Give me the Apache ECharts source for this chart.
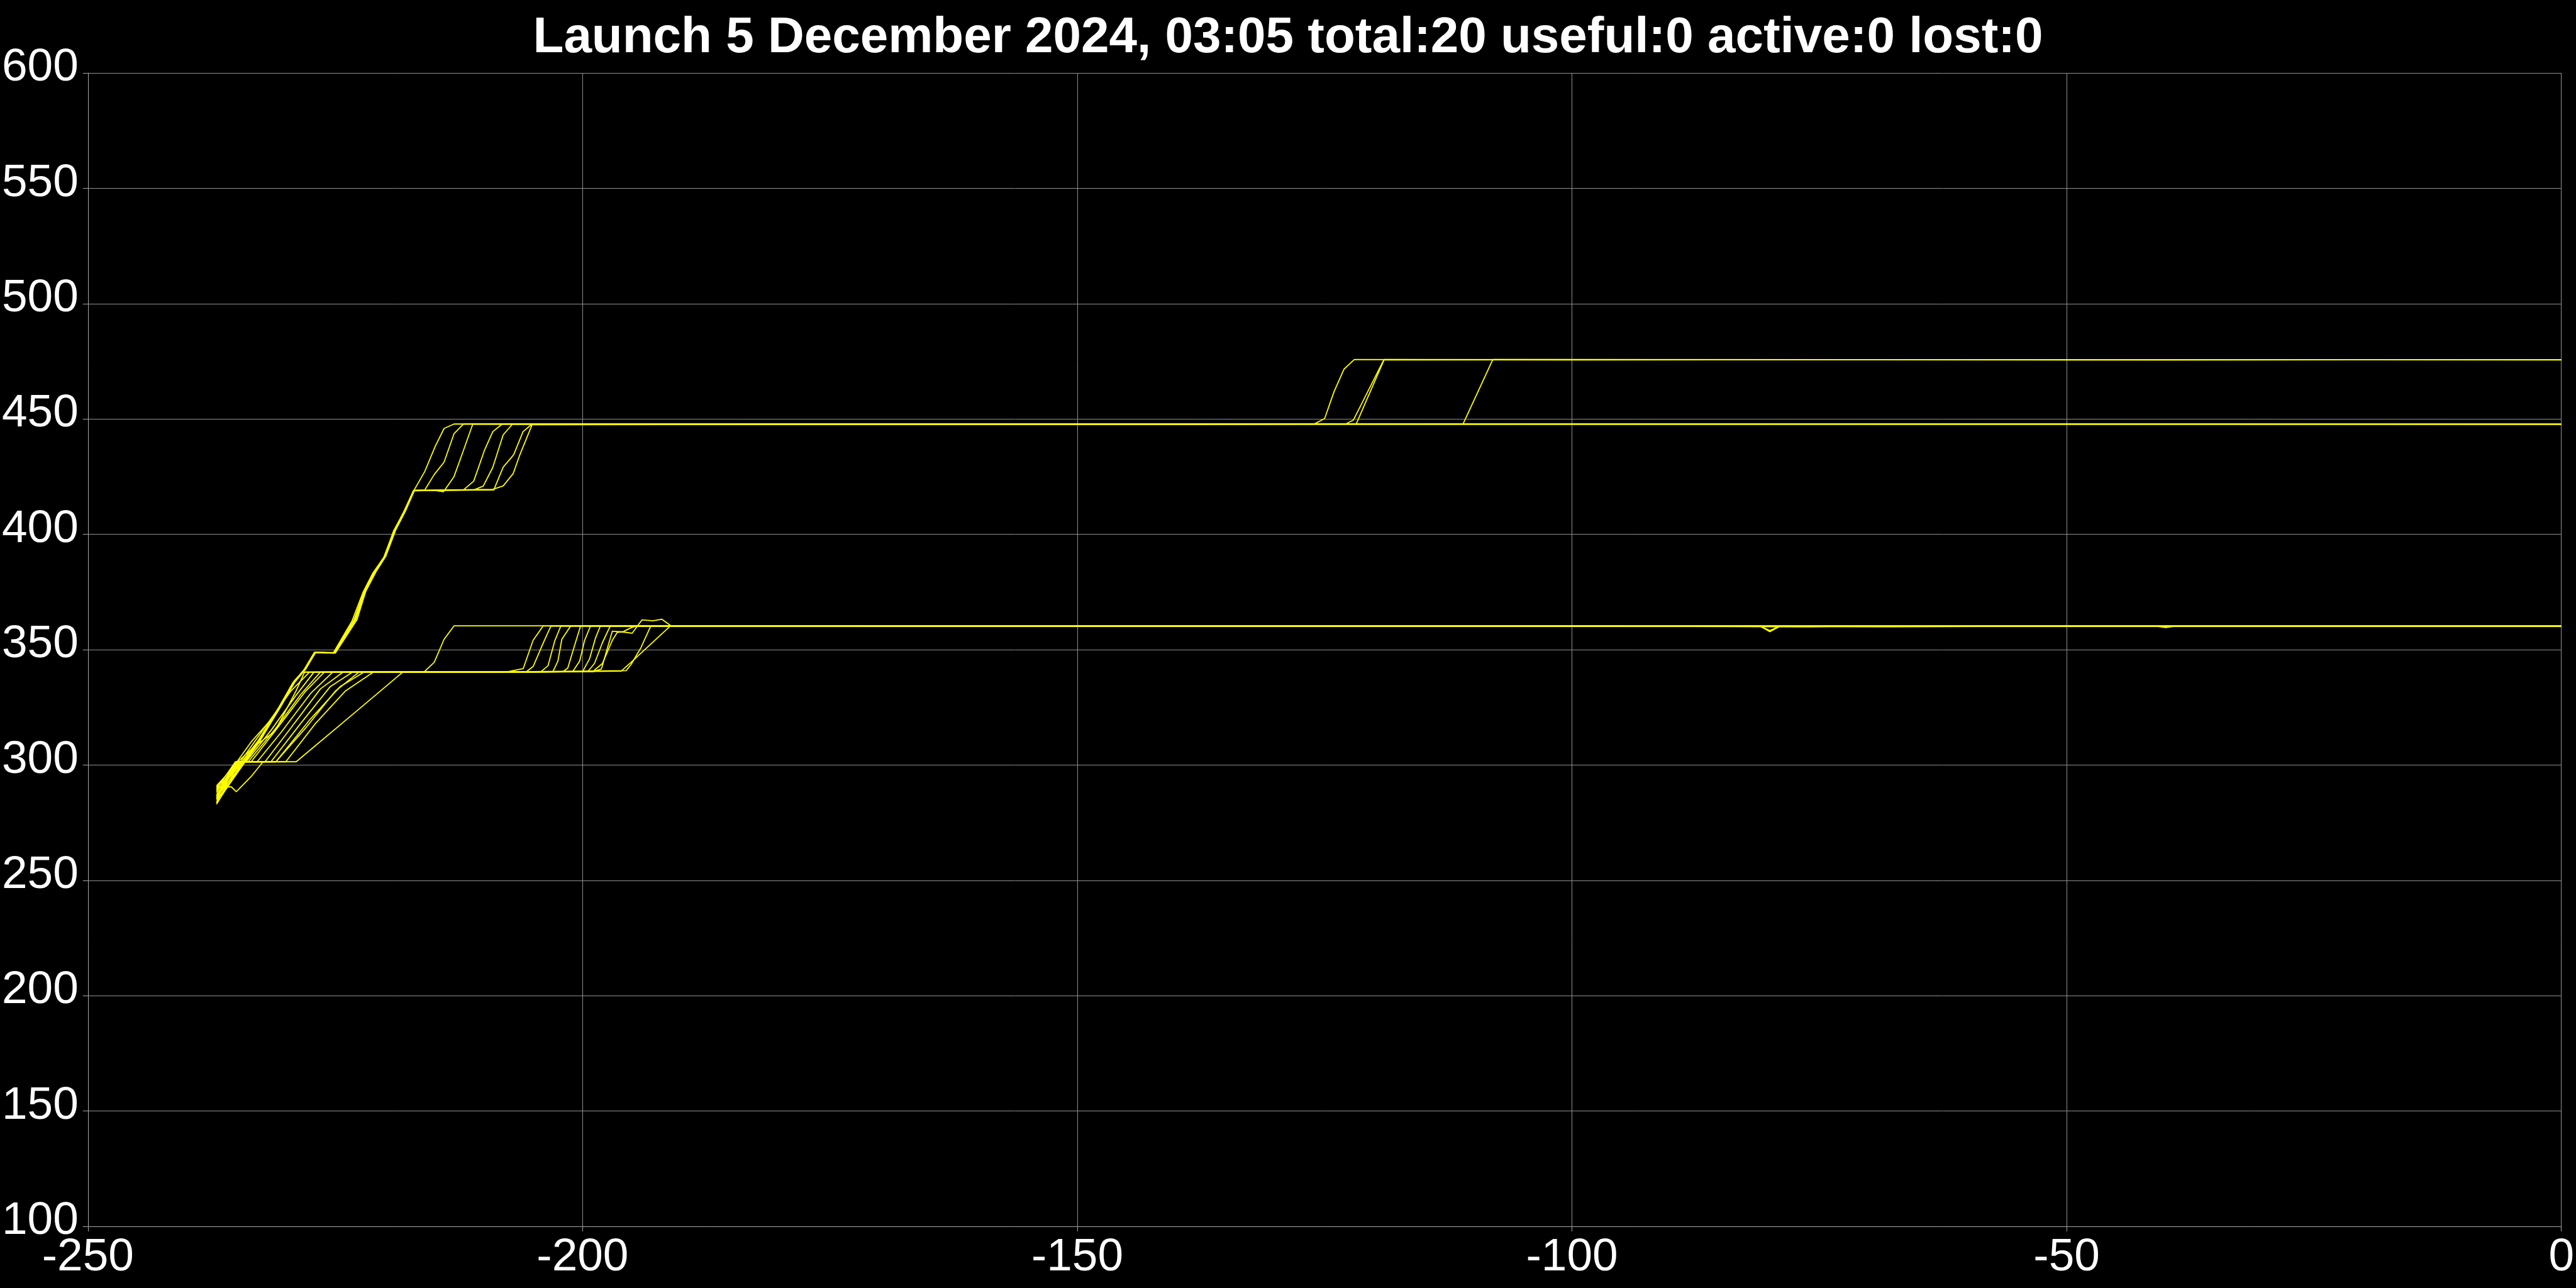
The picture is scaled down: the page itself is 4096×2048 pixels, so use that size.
<!DOCTYPE html>
<html>
<head>
<meta charset="utf-8">
<script src="https://cdn.jsdelivr.net/npm/echarts@6/dist/echarts.min.js"></script>
<style>
html,body{margin:0;padding:0;background:#000;}
#chart{width:4096px;height:2048px;}
</style>
</head>
<body>
<div id="chart"></div>
<script>
// ---- Data: days relative to now (x) vs altitude km (y) ----
const titleText = "Launch 5 December 2024, 03:05 total:20 useful:0 active:0 lost:0";
const xTicks = [-250, -200, -150, -100, -50, 0];
const yTicks = [100, 150, 200, 250, 300, 350, 400, 450, 500, 550, 600];

// Upper group (raised to 420 then 448, some to 475)
const sat01 = [[-237,287.0],[-235.1,296.4],[-232.75,310.0],[-230.6,325.5],[-229.2,335.9],[-228.1,341.4],[-227.05,348.8],[-225.1,348.6],[-223.0,363.2],[-222.0,375.4],[-221.0,383.6],[-220.0,390.4],[-219.0,401.8],[-218.0,410.0],[-217.05,419.0],[-215.96,427.2],[-214.9,438.1],[-214.0,445.9],[-213.0,447.8],[-190,447.8],[-160,447.8],[-126.0,447.9],[-125.0,450.2],[-124.05,461.8],[-123.04,471.6],[-122.0,475.8],[-100,475.6],[-70,475.7],[-40,475.6],[0,475.7]];
const sat02 = [[-237,285.0],[-235.0,296.0],[-232.7,310.2],[-230.5,325.8],[-229.2,336.2],[-228.0,341.8],[-227.0,348.7],[-225.0,348.5],[-222.8,363.0],[-221.9,375.6],[-220.9,383.8],[-219.9,390.6],[-218.9,401.9],[-217.9,410.3],[-217.0,419.1],[-215.96,419.2],[-215.0,425.9],[-214.0,431.3],[-213.0,443.6],[-212.05,447.8],[-180,447.8],[-140,447.8],[-122.8,448.0],[-122.1,449.5],[-119.0,475.8],[-90,475.7],[-50,475.6],[0,475.7]];
const sat03 = [[-237,289.0],[-235.2,297.0],[-232.8,310.5],[-230.7,325.0],[-229.3,335.5],[-228.2,341.0],[-227.1,348.9],[-225.1,348.7],[-223.1,363.0],[-222.1,375.0],[-221.1,383.3],[-220.0,390.2],[-219.1,401.5],[-218.0,409.8],[-217.1,418.9],[-215.0,419.1],[-214.05,418.5],[-213.0,425.0],[-212.05,436.3],[-211.1,447.8],[-180,447.8],[-140,447.7],[-121.8,447.9],[-119.0,475.6],[-80,475.7],[-40,475.7],[0,475.6]];
const sat04 = [[-237,284.0],[-235.0,296.2],[-232.7,309.8],[-230.6,325.4],[-229.1,336.0],[-228.1,341.3],[-227.05,348.7],[-225.1,348.6],[-223.0,363.1],[-222.0,375.3],[-221.0,383.5],[-220.0,390.3],[-219.0,401.7],[-218.0,410.1],[-217.05,419.0],[-212.05,419.2],[-211.0,423.1],[-209.93,436.3],[-209.08,444.5],[-208.13,447.8],[-170,447.8],[-130,447.8],[-111.0,447.9],[-108.0,475.8],[-70,475.7],[-30,475.7],[0,475.7]];
const sat05 = [[-237,290.5],[-235.2,297.2],[-232.8,310.3],[-230.6,325.6],[-229.2,336.1],[-228.1,341.5],[-227.0,348.8],[-225.2,348.6],[-223.3,362.5],[-222.2,374.8],[-221.2,383.2],[-220.1,390.0],[-219.1,401.4],[-218.1,409.6],[-217.1,418.9],[-211.0,419.2],[-210.04,420.9],[-209.08,429.0],[-208.03,443.1],[-207.08,447.8],[-150,447.8],[-100,447.7],[-50,447.8],[0,447.7]];
const sat06 = [[-237,286.0],[-235.1,296.5],[-232.75,310.1],[-230.6,325.5],[-229.2,335.8],[-228.1,341.4],[-227.05,348.8],[-225.1,348.6],[-223.0,363.2],[-222.0,375.4],[-221.0,383.6],[-220.0,390.4],[-219.0,401.8],[-218.0,410.0],[-217.05,419.0],[-209.08,419.5],[-208.03,421.0],[-207.02,426.3],[-206.34,434.5],[-205.11,447.5],[-150,447.8],[-100,447.8],[-50,447.7],[0,447.8]];
const sat07 = [[-237,283.5],[-235.0,296.0],[-232.7,309.9],[-230.5,325.4],[-229.1,335.9],[-228.0,341.5],[-227.0,348.8],[-225.0,348.6],[-222.9,363.3],[-221.9,375.5],[-220.9,383.7],[-219.9,390.5],[-218.9,401.9],[-217.9,410.2],[-217.0,419.1],[-208.98,419.2],[-208.03,429.1],[-206.97,434.5],[-206.02,444.5],[-205.11,447.8],[-150,447.7],[-100,447.8],[-50,447.8],[0,447.7]];

// Lower group (300 -> 340 -> 360)
const sat08 = [[-237,288.0],[-235.1,300.5],[-233.0,308.6],[-231.1,314.6],[-229.0,331.8],[-228.1,340.3],[-222.0,340.2],[-216.0,340.4],[-215.0,344.5],[-214.0,354.5],[-213.0,360.3],[-200,360.3],[-170,360.2],[-140,360.3],[-110,360.2],[-80,360.2],[-50,360.2],[-20,360.1],[0,360.2]];
const sat09 = [[-237,286.0],[-235.8,294.0],[-234.0,305.0],[-231.5,320.0],[-229.5,332.0],[-227.6,340.3],[-215,340.3],[-207.6,340.4],[-206.0,341.8],[-205.0,354.1],[-204.0,360.25],[-180,360.3],[-150,360.2],[-120,360.2],[-90,360.2],[-81,360.2],[-80,357.8],[-79,360.1],[-60,360.2],[-30,360.2],[0,360.2]];
const sat10 = [[-237,289.5],[-235.1,301.4],[-234.0,301.5],[-231.5,315.0],[-229.0,330.0],[-227.15,340.3],[-215,340.4],[-205.7,340.4],[-205.0,342.7],[-204.0,352.7],[-203.2,360.25],[-170,360.2],[-130,360.3],[-100,360.2],[-76,359.9],[-73,360.1],[-40,360.2],[0,360.2]];
const sat11 = [[-237,285.0],[-235.0,301.4],[-233.8,301.4],[-231.0,316.0],[-228.5,330.5],[-226.5,340.3],[-210,340.3],[-204.2,340.5],[-203.5,343.0],[-202.8,354.0],[-202.2,360.3],[-160,360.2],[-120,360.2],[-81,360.2],[-80,358.3],[-79,360.2],[-40,360.2],[0,360.1]];
const sat12 = [[-237,287.0],[-234.8,301.4],[-233.5,301.4],[-230.5,318.0],[-228.0,332.0],[-226.1,340.3],[-210,340.4],[-203.0,340.5],[-202.5,345.0],[-202.1,354.5],[-201.2,360.3],[-150,360.2],[-100,360.2],[-68,359.9],[-50,360.2],[-41,360.2],[-40,359.6],[-39,360.2],[0,360.2]];
const sat13 = [[-237,284.0],[-234.6,301.4],[-232.9,301.4],[-230.5,314.0],[-227.5,331.0],[-225.25,340.3],[-210,340.3],[-202.0,340.4],[-201.5,342.0],[-200.8,352.0],[-200.2,360.3],[-160,360.2],[-110,360.3],[-60,360.2],[0,360.2]];
const sat14 = [[-237,290.0],[-235.0,301.4],[-232.1,301.4],[-229.5,316.0],[-226.5,333.0],[-224.2,340.3],[-210,340.3],[-201.0,340.5],[-200.3,345.0],[-199.8,354.0],[-199.2,360.3],[-150,360.2],[-100,360.2],[-40,360.1],[0,360.2]];
const sat15 = [[-237,283.0],[-234.4,301.4],[-231.5,301.4],[-228.5,318.0],[-225.5,334.0],[-223.24,340.3],[-205,340.3],[-200.0,340.5],[-199.3,346.0],[-198.7,355.0],[-198.2,360.3],[-140,360.2],[-90,360.2],[-30,360.2],[0,360.2]];
const sat16 = [[-237,286.5],[-234.7,301.4],[-231.0,301.4],[-227.5,320.0],[-224.5,334.0],[-222.08,340.3],[-205,340.4],[-199.0,340.4],[-198.0,344.0],[-197.0,354.0],[-196.5,357.5],[-195.9,357.8],[-195.1,359.5],[-194.5,360.3],[-150,360.2],[-100,360.2],[-50,360.2],[0,360.2]];
const sat17 = [[-237,288.5],[-234.9,301.4],[-230.0,301.4],[-227.0,318.0],[-224.0,332.0],[-221.13,340.3],[-205,340.4],[-199.0,340.4],[-198.1,341.6],[-197.0,358.0],[-196.0,357.7],[-195.0,357.1],[-194.5,360.0],[-194.0,362.9],[-192.9,362.5],[-192.0,363.2],[-191.1,360.4],[-150,360.3],[-100,360.2],[-50,360.2],[0,360.2]];
const sat18 = [[-237,285.5],[-235.0,301.4],[-228.95,301.4],[-223.5,321.0],[-218.17,340.3],[-205,340.3],[-196.1,340.7],[-195.1,344.5],[-191.1,360.4],[-150,360.2],[-100,360.2],[-50,360.1],[0,360.2]];
const sat19 = [[-237,291.0],[-235.5,298.0],[-233.5,310.0],[-231.0,322.0],[-229.5,334.0],[-228.3,340.3],[-210,340.3],[-195.6,340.9],[-195.1,343.6],[-194.1,350.9],[-193.1,360.3],[-150,360.2],[-100,360.2],[-50,360.2],[0,360.2]];
const sat20 = [[-237,290.5],[-235.5,290.5],[-235.0,288.4],[-233.5,295.0],[-232.3,301.4],[-231.0,301.4],[-228.0,316.0],[-225.0,332.0],[-222.6,340.3],[-205,340.3],[-199.5,340.4],[-198.8,344.0],[-198.0,353.0],[-197.2,360.3],[-150,360.2],[-100,360.2],[-50,360.2],[0,360.2]];

const satellites = [sat01,sat02,sat03,sat04,sat05,sat06,sat07,sat08,sat09,sat10,
                    sat11,sat12,sat13,sat14,sat15,sat16,sat17,sat18,sat19,sat20];

// ---- Chart ----
const FONT = "'Liberation Sans', Arial, Helvetica, sans-serif";
const chart = echarts.init(document.getElementById('chart'), null, {renderer: 'canvas'});
const axisGray = '#a8a8a8';
const gridGray = '#909090';

chart.setOption({
  backgroundColor: '#000000',
  animation: false,
  title: {
    text: titleText,
    left: 'center',
    top: 16,
    textStyle: {color: '#ffffff', fontSize: 80, fontWeight: 'bold', fontFamily: FONT}
  },
  grid: {left: 131, right: 23, top: 116, bottom: 98, containLabel: false},
  xAxis: {
    type: 'value',
    min: xTicks[0], max: xTicks[xTicks.length - 1], interval: 50,
    axisLine: {show: true, onZero: false, lineStyle: {color: axisGray, width: 1}},
    axisTick: {show: true, inside: false, length: 8, lineStyle: {color: axisGray, width: 1}},
    axisLabel: {color: '#ffffff', fontSize: 73, fontFamily: FONT, margin: 13, showMinLabel: true, showMaxLabel: true},
    splitLine: {show: true, lineStyle: {color: gridGray, width: 1}}
  },
  yAxis: {
    type: 'value',
    min: yTicks[0], max: yTicks[yTicks.length - 1], interval: 50,
    axisLine: {show: true, onZero: false, lineStyle: {color: axisGray, width: 1}},
    axisTick: {show: true, inside: false, length: 8, lineStyle: {color: axisGray, width: 1}},
    axisLabel: {color: '#ffffff', fontSize: 73, fontFamily: FONT, margin: 15, verticalAlign: 'bottom', lineHeight: 16, showMinLabel: true, showMaxLabel: true},
    splitLine: {show: true, lineStyle: {color: gridGray, width: 1}}
  },
  series: satellites.map((d, i) => ({
    name: 'sat' + (i + 1),
    type: 'line',
    data: d,
    showSymbol: false,
    symbol: 'none',
    smooth: false,
    lineStyle: {color: '#ffff00', width: 1.8},
    z: 3
  }))
});
</script>
</body>
</html>
